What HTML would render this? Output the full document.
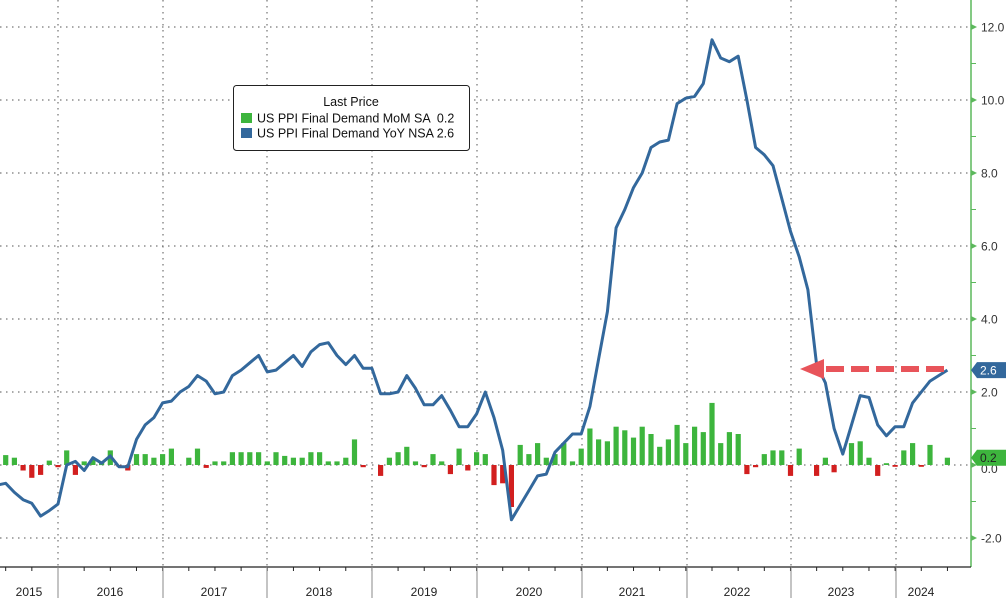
<!DOCTYPE html>
<html><head><meta charset="utf-8"><style>
html,body{margin:0;padding:0;background:#fff;}
svg{display:block;font-family:"Liberation Sans",sans-serif;}
</style></head><body>
<svg id="c" width="1006" height="598" viewBox="0 0 1006 598" xmlns="http://www.w3.org/2000/svg"></svg>
<script>
const S=document.getElementById('c');
const Y=v=>465-v*36.5, X=k=>58+k*8.72;
let h='';
for(let v=-2;v<=12;v+=2){h+=`<line x1="0" x2="971" y1="${Y(v)}" y2="${Y(v)}" stroke="#555" stroke-width="1" stroke-dasharray="1.5,4.5"/>`;}
const yb=[58,163,267,372,477,582,687,791,896];
yb.forEach(x=>{h+=`<line x1="${x}" x2="${x}" y1="0" y2="567" stroke="#555" stroke-dasharray="1.5,4.5"/>`;});
const bars={"-6":.27,"-5":.2,"-4":-.15,"-3":-.35,"-2":-.27,"-1":.12,"0":-.06,1:.4,2:-.27,3:.1,4:.15,5:.1,6:.4,7:-.05,8:-.15,9:.3,10:.3,11:.2,12:.3,13:.45,14:0,15:.2,16:.45,17:-.08,18:.1,19:.1,20:.35,21:.35,22:.35,23:.35,24:.1,25:.35,26:.25,27:.2,28:.2,29:.35,30:.35,31:.1,32:.1,33:.2,34:.7,35:-.06,36:0,37:-.3,38:.2,39:.35,40:.5,41:.1,42:-.06,43:.3,44:.1,45:-.25,46:.45,47:-.15,48:.35,49:.3,50:-.55,51:-.5,52:-1.15,53:.55,54:.3,55:.6,56:.2,57:.3,58:.6,59:.1,60:.45,61:1,62:.7,63:.65,64:1.05,65:.95,66:.75,67:1.05,68:.85,69:.5,70:.7,71:1.1,72:.6,73:1.05,74:.9,75:1.7,76:.6,77:.9,78:.85,79:-.25,80:-.06,81:.3,82:.4,83:.4,84:-.3,85:.45,86:0,87:-.3,88:.2,89:-.2,90:0,91:.6,92:.65,93:.2,94:-.3,95:.05,96:-.05,97:.4,98:.6,99:-.05,100:.55,101:0,102:.2};
for(const k in bars){const v=bars[k];if(v===0)continue;const x=X(+k)-2.6;const y=v>0?Y(v):465;const hh=Math.abs(v)*36.5;
h+=`<rect x="${x.toFixed(1)}" y="${y.toFixed(1)}" width="5.2" height="${Math.max(hh,1.5).toFixed(1)}" fill="${v>0?'#3db53d':'#d21f1f'}"/>`;}
const L=[-.55,-.5,-.75,-.95,-1.05,-1.4,-1.25,-1.07,0,.1,-.15,.2,.05,.25,-.05,-.05,.7,1.1,1.3,1.7,1.75,2,2.15,2.45,2.3,1.95,2,2.45,2.6,2.8,3,2.55,2.6,2.8,3,2.7,3.1,3.3,3.35,3,2.75,3,2.65,2.65,1.95,1.95,2,2.45,2.1,1.65,1.65,1.9,1.5,1.05,1.05,1.4,2,1.3,.4,-1.5,-1.1,-.7,-.3,-.25,.35,.6,.85,.85,1.6,2.9,4.2,6.5,7,7.6,8,8.7,8.85,8.9,9.9,10.05,10.1,10.45,11.65,11.15,11.05,11.2,10,8.7,8.5,8.2,7.3,6.4,5.7,4.8,2.75,2.25,1,.3,1.1,1.9,1.85,1.1,.8,1.05,1.05,1.7,2,2.3,2.45,2.6];
h+=`<polyline fill="none" stroke="#33689c" stroke-width="3" stroke-linejoin="round" points="${L.map((v,i)=>X(i-7).toFixed(1)+','+Y(v).toFixed(1)).join(' ')}"/>`;
h+=`<line x1="971" x2="971" y1="0" y2="567" stroke="#5cb85c" stroke-width="1.5"/>`;
for(let v=-2;v<=12;v+=2){const y=Y(v);h+=`<polygon points="971,${y-3} 977,${y} 971,${y+3}" fill="#5cb85c"/>`;
if(v!==0)h+=`<text x="981" y="${y+4.5}" font-size="12" fill="#333">${v.toFixed(1)}</text>`;}
for(let v=-1;v<=11;v+=2){const y=Y(v);h+=`<line x1="971" x2="976" y1="${y}" y2="${y}" stroke="#5cb85c"/>`;}
h+=`<text x="981" y="${Y(0)+8}" font-size="12" fill="#333">0.0</text>`;
h+=`<polygon points="971,${Y(.2)} 977,${Y(.2)-8} 1006,${Y(.2)-8} 1006,${Y(.2)+8} 977,${Y(.2)+8}" fill="#3db53d"/><text x="980" y="${Y(.2)+4.5}" font-size="12" fill="#222">0.2</text>`;
h+=`<polygon points="971,${Y(2.6)} 977,${Y(2.6)-8} 1006,${Y(2.6)-8} 1006,${Y(2.6)+8} 977,${Y(2.6)+8}" fill="#33689c"/><text x="980" y="${Y(2.6)+4.5}" font-size="12" fill="#fff">2.6</text>`;
h+=`<line x1="0" x2="971" y1="567" y2="567" stroke="#222" stroke-width="1.2"/>`;
for(let k=-9;k<=105;k+=3){const x=X(k);if(x<0||x>971)continue;h+=`<line x1="${x}" x2="${x}" y1="567" y2="571" stroke="#222"/>`;}
yb.forEach(x=>{h+=`<line x1="${x}" x2="${x}" y1="567" y2="598" stroke="#888"/>`;});
[[29,2015],[110,2016],[214,2017],[319,2018],[424,2019],[529,2020],[632,2021],[737,2022],[841,2023],[921,2024]].forEach(([x,t])=>{h+=`<text x="${x}" y="596" font-size="12" fill="#222" text-anchor="middle">${t}</text>`;});
h+=`<line x1="944" x2="822" y1="369" y2="369" stroke="#e8545a" stroke-width="6" stroke-dasharray="18,7"/>`;
h+=`<polygon points="800,369 824,359 824,379" fill="#e8545a"/>`;
h+=`<rect x="233.5" y="85.5" width="236" height="65" rx="3" fill="#fff" stroke="#222"/>`;
h+=`<text x="351" y="106" font-size="12.5" text-anchor="middle" fill="#111">Last Price</text>`;
h+=`<rect x="241" y="113" width="11" height="10" fill="#3db53d"/><text x="257" y="122.5" font-size="12.5" fill="#111" xml:space="preserve">US PPI Final Demand MoM SA  0.2</text>`;
h+=`<rect x="241" y="128" width="11" height="10" fill="#33689c"/><text x="257" y="137.5" font-size="12.5" fill="#111">US PPI Final Demand YoY NSA 2.6</text>`;
S.innerHTML=h;
</script>
</body></html>
